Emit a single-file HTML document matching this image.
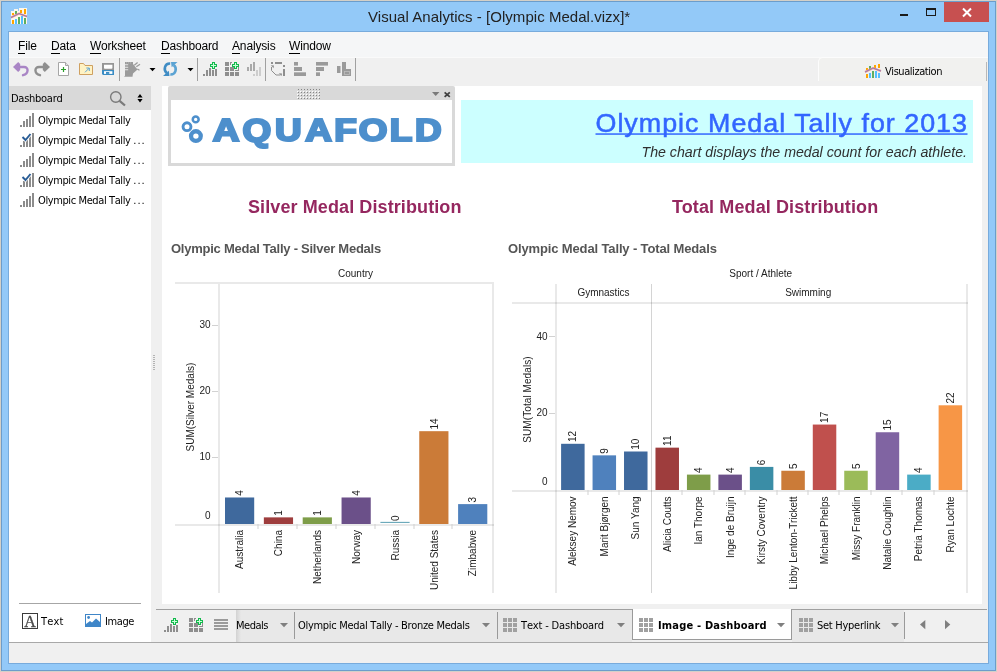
<!DOCTYPE html>
<html lang="en">
<head>
<meta charset="utf-8">
<title>Visual Analytics - [Olympic Medal.vizx]*</title>
<style>
*{box-sizing:border-box;margin:0;padding:0}
html,body{width:997px;height:672px;overflow:hidden}
body{background:#d4d0c8;font-family:"DejaVu Sans Condensed","DejaVu Sans","Liberation Sans",sans-serif;font-size:11px;color:#000;position:relative}
.abs{position:absolute}
.t{position:absolute;white-space:nowrap;line-height:1}
.ui{font-family:"DejaVu Sans Condensed","DejaVu Sans","Liberation Sans",sans-serif;font-size:11px;font-kerning:none;color:#000}
.ar{font-family:"Liberation Sans",sans-serif}
#win{left:1px;top:1px;width:995px;height:670px;background:#93c9f8;border:1px solid #6c9dcb}
#client{left:9px;top:32px;width:979px;height:631px;background:#f0f0f0}
#menubar{left:0;top:0;width:979px;height:25px;background:#f5f6f7}
.menu{font-family:"Liberation Sans",sans-serif;font-size:12px;top:8px;letter-spacing:-0.150px}
.menu u{text-decoration:none;border-bottom:1px solid #000}
#toolbar{left:0;top:25px;width:979px;height:29px;background:#f0f0f0}
.vsep{position:absolute;width:1px;background:#a0a0a0}
#left{left:0;top:54px;width:142px;height:556px;background:#fff}
#lhead{left:0;top:0;width:142px;height:24px;background:#d9d9d9}
#dash{left:153px;top:54px;width:820px;height:518px;background:#fff;overflow:hidden}
#status{left:0;top:610px;width:979px;height:21px;background:#f0f0f0;border-top:1px solid #a3a3a3}
#tabbar{left:147px;top:577px;width:832px;height:33px}
.tab{position:absolute;top:1px;height:29px;background:#e8e8e8}
.tri{position:absolute;width:0;height:0;border-left:4px solid transparent;border-right:4px solid transparent;border-top:4px solid #7a7a7a}
svg{position:absolute;overflow:visible}
svg text{font-family:"Liberation Sans",sans-serif}
</style>
</head>
<body>
<div id="win" class="abs"></div>
<!-- title bar -->
<svg style="left:11px;top:8px" width="16" height="16" viewBox="0 0 16 16">
 <rect x="0" y="3" width="16" height="13" fill="#fbf7ee"/><rect x="3" y="1" width="4" height="3" fill="#fbf7ee"/><rect x="8" y="0" width="8" height="4" fill="#fbf7ee"/>
 <rect x="1" y="5" width="2" height="2" fill="#ffa500"/><rect x="4" y="3" width="2" height="3" fill="#5fae5f"/>
 <rect x="9" y="2" width="2" height="3" fill="#ffa500"/><rect x="13" y="1" width="2" height="5" fill="#ffa500"/>
 <path d="M0 9.5 L8 5.5 L16 8.5" stroke="#eda08c" stroke-width="2" fill="none"/>
 <path d="M0 9.5 L8 5.5 L16 8.5" stroke="#7b68c8" stroke-width="0.8" fill="none"/>
 <rect x="1" y="12" width="2" height="4" fill="#ffa500"/><rect x="4" y="11" width="2" height="5" fill="#55bfff"/>
 <rect x="7" y="9" width="2" height="7" fill="#5fae5f"/><rect x="10" y="8" width="2" height="8" fill="#55bfff"/>
 <rect x="13" y="10" width="2" height="6" fill="#5fae5f"/>
</svg>
<div class="t ar" style="left:368px;top:9px;font-size:15px;color:#222;letter-spacing:0.040px">Visual Analytics - [Olympic Medal.vizx]*</div>
<div class="abs" style="left:900px;top:14px;width:8px;height:2px;background:#1a1a1a"></div>
<div class="abs" style="left:926px;top:8px;width:10px;height:8px;border:1px solid #1a1a1a;border-top-width:2px"></div>
<div class="abs" style="left:944px;top:2px;width:45px;height:20px;background:#c75050"></div>
<svg style="left:962px;top:8px" width="10" height="9" viewBox="0 0 10 9"><path d="M1 0.5 L9 8.5 M9 0.5 L1 8.5" stroke="#fff" stroke-width="2"/></svg>

<div class="abs" style="left:8px;top:31px;width:981px;height:633px;border:1px solid #78abdc"></div>
<div id="client" class="abs"></div>
<div class="abs" style="left:9px;top:32px;width:979px;height:25px;background:#f5f6f7"></div>
<div class="t menu" style="left:18px;top:40px"><u>F</u>ile</div>
<div class="t menu" style="left:51px;top:40px"><u>D</u>ata</div>
<div class="t menu" style="left:90px;top:40px"><u>W</u>orksheet</div>
<div class="t menu" style="left:161px;top:40px"><u>D</u>ashboard</div>
<div class="t menu" style="left:232px;top:40px"><u>A</u>nalysis</div>
<div class="t menu" style="left:289px;top:40px"><u>W</u>indow</div>
<!-- toolbar highlight line -->
<div class="abs" style="left:9px;top:57px;width:974px;height:1px;background:#fafafa"></div>
<!-- toolbar icons -->
<svg style="left:13px;top:62px" width="16" height="14" viewBox="0 0 16 14"><path d="M0 5 L5.200 0 L7.200 2 V8 L5.200 10 Z" fill="#a985c5"/><path d="M5 5 H11 C15.800 5 16 11.500 10 13.200" stroke="#a985c5" stroke-width="2.400" fill="none" stroke-linecap="round"/></svg>
<svg style="left:34px;top:62px" width="16" height="14" viewBox="0 0 16 14"><path d="M16 5 L10.800 0 L8.800 2 V8 L10.800 10 Z" fill="#8f8f8f"/><path d="M11 5 H5 C0.200 5 0 11.500 6 13.200" stroke="#8f8f8f" stroke-width="2.400" fill="none" stroke-linecap="round"/></svg>
<svg style="left:58px;top:62px" width="11" height="14" viewBox="0 0 11 14"><path d="M0.5 0.5 H7.5 L10.5 3.5 V13.5 H0.5 Z" fill="#fff" stroke="#a6a6a6"/><path d="M7.5 0.5 V3.5 H10.5" fill="#e4e4e4" stroke="#a6a6a6"/><path d="M5.5 5 V10 M3 7.5 H8" stroke="#2ca02c" stroke-width="1.2"/></svg>
<svg style="left:79px;top:63px" width="14" height="12" viewBox="0 0 14 12"><path d="M0.5 0.5 H4.5 L6 2.5 H13.5 V11.5 H0.5 Z" fill="#fff3c4" stroke="#cfa060"/><path d="M6 9.300 L10 5.300 M7.300 5 H10.300 V8" stroke="#4a9bd8" stroke-width="0.900" fill="none"/></svg>
<svg style="left:102px;top:63px" width="12" height="12" viewBox="0 0 12 12"><rect x="0" y="0" width="12" height="7" fill="#959595"/><path d="M2 1.700 H10.400 V5 Q10.400 5.800 9.600 5.800 H2.800 Q2 5.800 2 5 Z" fill="#fff"/><path d="M0 7 H12 V12 H1 L0 11 Z" fill="#3a8cc4"/><path d="M2 8.200 H10.400 V10.900 H2 Z" fill="#fff"/><rect x="4" y="9" width="3.300" height="1.900" fill="#3a8cc4"/></svg>
<div class="vsep" style="left:119px;top:58px;height:23px"></div>
<svg style="left:124px;top:62px" width="17" height="15" viewBox="0 0 17 15"><path d="M1 0 H9 V2 L13.500 7.500 L9 11.500 L8.500 14.700 H0 L1 13.800 Z" fill="#9b9b9b"/><path d="M1 2.750 H4.200 M1 5.250 H4.200 M1 7.750 H4.200" stroke="#efefef" stroke-width="0.900"/><path d="M2.500 0.500 V1.300 M4.500 0.500 V1.300 M6.500 0.500 V1.300" stroke="#d0d0d0" stroke-width="0.700"/><path d="M10.300 3.200 L13.600 0.500 M12.300 4.800 L16 2.200 M13.300 7 L15.500 8.200" stroke="#9b9b9b" stroke-width="1.300"/></svg>
<svg style="left:149px;top:68px" width="7" height="4" viewBox="0 0 7 4"><path d="M0.500 0 H6.500 L3.500 3.300 Z" fill="#000"/></svg>
<svg style="left:163px;top:62px" width="15" height="14" viewBox="0 0 15 14"><path d="M7.200 1.500 C1.500 1.200 0.200 8 3.800 11" stroke="#3f8cc4" stroke-width="2.600" fill="none"/><path d="M0 14 H6.500 L5.800 8.800 Z" fill="#3f8cc4"/><path d="M7.300 12.500 C13 12.800 14.300 6 10.700 3" stroke="#5ba3d3" stroke-width="2.600" fill="none"/><path d="M14.500 0 H8 L8.700 5.200 Z" fill="#5ba3d3"/></svg>
<svg style="left:187px;top:68px" width="7" height="4" viewBox="0 0 7 4"><path d="M0.500 0 H6.500 L3.500 3.300 Z" fill="#000"/></svg>
<div class="vsep" style="left:197px;top:58px;height:23px"></div>
<svg style="left:203px;top:62px" width="15" height="14" viewBox="0 0 15 14"><g fill="#8e8e8e"><rect x="0" y="12" width="2" height="2"/><rect x="3" y="8" width="2" height="6"/><rect x="6" y="6" width="2" height="8"/><rect x="9" y="8" width="2" height="6"/><rect x="12" y="7" width="2" height="7"/></g><g shape-rendering="crispEdges"><path d="M9 0 H12 V2 H14 V5 H12 V7 H9 V5 H7 V2 H9 Z" fill="#12b84c"/><path d="M10 1 H11 V3 H13 V4 H11 V6 H10 V4 H8 V3 H10 Z" fill="#c8ffd8"/></g></svg>
<svg style="left:225px;top:62px" width="15" height="14" viewBox="0 0 15 14"><g fill="#8e8e8e"><rect x="0" y="0" width="4" height="4"/><rect x="0" y="5" width="4" height="4"/><rect x="0" y="10" width="4" height="4"/><rect x="5" y="5" width="4" height="4"/><rect x="5" y="10" width="4" height="4"/><rect x="10" y="10" width="4" height="4"/><rect x="5" y="0" width="2" height="1"/><rect x="5" y="0" width="1" height="3"/><rect x="13" y="5" width="1" height="4"/><rect x="10" y="8" width="4" height="1"/></g><g shape-rendering="crispEdges"><path d="M9 0 H12 V2 H14 V5 H12 V7 H9 V5 H7 V2 H9 Z" fill="#12b84c"/><path d="M10 1 H11 V3 H13 V4 H11 V6 H10 V4 H8 V3 H10 Z" fill="#c8ffd8"/></g></svg>
<svg style="left:247px;top:62px" width="15" height="14" viewBox="0 0 15 14"><g fill="#a9a9a9"><rect x="0" y="5" width="2" height="4"/><rect x="3" y="2" width="2" height="7"/><rect x="6" y="0" width="2" height="9"/></g><g fill="#cdcdcd"><rect x="6" y="12" width="2" height="2"/><rect x="9" y="8" width="2" height="6"/><rect x="12" y="5" width="2" height="9"/></g></svg>
<div class="vsep" style="left:265px;top:58px;height:23px"></div>
<svg style="left:270px;top:62px" width="15" height="14" viewBox="0 0 15 14"><g fill="#8e8e8e"><rect x="1" y="0" width="2" height="2"/><rect x="5" y="0" width="7" height="2"/><rect x="13" y="3" width="2" height="2"/><rect x="13" y="7" width="2" height="7"/><path d="M0.800 3.200 L4 3.400 L3.600 6.300 Z"/><path d="M8.800 11.200 L12 11.400 L11.700 14 Z"/></g><path d="M1.500 5 V8.500 L6 13 H10.500" stroke="#8e8e8e" stroke-width="1" fill="none"/></svg>
<svg style="left:294px;top:62px" width="12" height="14" viewBox="0 0 12 14"><g fill="#9a9a9a"><rect x="0" y="0" width="4" height="3.600"/><rect x="0" y="5" width="8" height="4"/><rect x="0" y="10.300" width="12" height="3.700"/></g></svg>
<svg style="left:316px;top:62px" width="12" height="14" viewBox="0 0 12 14"><g fill="#9a9a9a"><rect x="0" y="0" width="12" height="3.600"/><rect x="0" y="5" width="8" height="4"/><rect x="0" y="10.300" width="4" height="3.700"/></g></svg>
<svg style="left:337px;top:62px" width="14" height="14" viewBox="0 0 14 14"><g fill="#9a9a9a"><rect x="0" y="4" width="3.500" height="7"/><rect x="5" y="0" width="4" height="8"/><rect x="5" y="7" width="9" height="7"/></g><rect x="7.500" y="9.500" width="5" height="3" fill="none" stroke="#bdbdbd" stroke-width="0.800"/></svg>
<div class="vsep" style="left:355px;top:58px;height:23px"></div>
<!-- Visualization tab -->
<div class="abs" style="left:818px;top:57px;width:170px;height:24px;background:#f1f1ef;border-left:1px solid #fcfcfc;border-top:1px solid #fcfcfc;border-top-left-radius:5px"></div>
<div class="abs" style="left:986px;top:62px;width:1px;height:19px;background:#b8b8b8"></div>
<svg style="left:865px;top:64px" width="16" height="14" viewBox="0 0 16 14">
 <rect x="1" y="4" width="2" height="2" fill="#ffa500"/><rect x="4" y="2" width="2" height="3" fill="#5fae5f"/><rect x="9" y="1" width="2" height="3" fill="#ffa500"/><rect x="13" y="0" width="2" height="4" fill="#ffa500"/>
 <path d="M0 8 L8 4 L16 7" stroke="#eda08c" stroke-width="2" fill="none"/><path d="M0 8 L8 4 L16 7" stroke="#7b68c8" stroke-width="0.800" fill="none"/>
 <rect x="1" y="10" width="2" height="4" fill="#ffa500"/><rect x="4" y="9" width="2" height="5" fill="#55bfff"/><rect x="7" y="7" width="2" height="7" fill="#5fae5f"/><rect x="10" y="7" width="2" height="7" fill="#55bfff"/><rect x="13" y="9" width="2" height="5" fill="#55bfff"/>
</svg>
<div class="t ui" style="left:885px;top:66px;letter-spacing:-0.441px">Visualization</div>
<!-- left panel -->
<div class="abs" style="left:9px;top:86px;width:142px;height:556px;background:#fff"></div>
<div class="abs" style="left:9px;top:86px;width:142px;height:24px;background:#d9d9d9"></div>
<div class="t ui" style="left:11px;top:93px;letter-spacing:-0.264px">Dashboard</div>
<svg style="left:110px;top:90px" width="17" height="17" viewBox="0 0 17 17"><circle cx="5.800" cy="7" r="5.200" fill="none" stroke="#7a7a7a" stroke-width="1.400"/><path d="M9.600 10.800 L15 15.500" stroke="#7a7a7a" stroke-width="2.200"/></svg>
<svg style="left:136.500px;top:93.700px" width="6" height="9" viewBox="0 0 6 9"><path d="M0.400 3.500 L3 0 L5.600 3.500 Z M0.400 5 L3 8.500 L5.600 5 Z" fill="#000"/></svg>
<svg style="left:20px;top:113px" width="14" height="14" viewBox="0 0 14 14"><g fill="#8c8c8c"><rect x="0" y="12" width="2" height="2"/><rect x="3" y="8" width="2" height="6"/><rect x="6" y="6" width="2" height="8"/><rect x="9" y="3" width="2" height="11"/><rect x="12" y="0" width="2" height="14"/></g></svg>
<div class="t ui" style="left:38px;top:115px;letter-spacing:-0.394px">Olympic Medal Tally</div>
<svg style="left:20px;top:133px" width="14" height="14" viewBox="0 0 14 14"><g fill="#8c8c8c"><rect x="0" y="12" width="2" height="2"/><rect x="3" y="8" width="2" height="6"/><rect x="6" y="6" width="2" height="8"/><rect x="9" y="3" width="2" height="11"/><rect x="12" y="0" width="2" height="14"/></g><path d="M2 3.500 L5.500 7 L11 0.500" stroke="#fff" stroke-width="3.400" fill="none"/><path d="M2.500 4 L5.500 7 L10.500 1" stroke="#2a5d96" stroke-width="1.900" fill="none"/></svg>
<div class="t ui" style="left:38px;top:135px;letter-spacing:-0.394px">Olympic Medal Tally <span style="letter-spacing:1px">...</span></div>
<svg style="left:20px;top:153px" width="14" height="14" viewBox="0 0 14 14"><g fill="#8c8c8c"><rect x="0" y="12" width="2" height="2"/><rect x="3" y="8" width="2" height="6"/><rect x="6" y="6" width="2" height="8"/><rect x="9" y="3" width="2" height="11"/><rect x="12" y="0" width="2" height="14"/></g></svg>
<div class="t ui" style="left:38px;top:155px;letter-spacing:-0.394px">Olympic Medal Tally <span style="letter-spacing:1px">...</span></div>
<svg style="left:20px;top:173px" width="14" height="14" viewBox="0 0 14 14"><g fill="#8c8c8c"><rect x="0" y="12" width="2" height="2"/><rect x="3" y="8" width="2" height="6"/><rect x="6" y="6" width="2" height="8"/><rect x="9" y="3" width="2" height="11"/><rect x="12" y="0" width="2" height="14"/></g><path d="M2 3.500 L5.500 7 L11 0.500" stroke="#fff" stroke-width="3.400" fill="none"/><path d="M2.500 4 L5.500 7 L10.500 1" stroke="#2a5d96" stroke-width="1.900" fill="none"/></svg>
<div class="t ui" style="left:38px;top:175px;letter-spacing:-0.394px">Olympic Medal Tally <span style="letter-spacing:1px">...</span></div>
<svg style="left:20px;top:193px" width="14" height="14" viewBox="0 0 14 14"><g fill="#8c8c8c"><rect x="0" y="12" width="2" height="2"/><rect x="3" y="8" width="2" height="6"/><rect x="6" y="6" width="2" height="8"/><rect x="9" y="3" width="2" height="11"/><rect x="12" y="0" width="2" height="14"/></g></svg>
<div class="t ui" style="left:38px;top:195px;letter-spacing:-0.394px">Olympic Medal Tally <span style="letter-spacing:1px">...</span></div>
<div class="abs" style="left:19px;top:603px;width:122px;height:1px;background:#a6a6a6"></div>
<svg style="left:22px;top:613px" width="16" height="16" viewBox="0 0 16 16"><rect x="0.500" y="0.500" width="15" height="15" fill="#fff" stroke="#3a3a3a"/><text x="8" y="13.500" text-anchor="middle" style="font-family:'Liberation Serif',serif;font-size:16px" fill="#4a4a4a" stroke="#4a4a4a" stroke-width="0.350">A</text></svg>
<div class="t ui" style="left:41px;top:616px;letter-spacing:0.155px">Text</div>
<svg style="left:85px;top:614px" width="16" height="13" viewBox="0 0 16 13"><rect x="0" y="0" width="16" height="13" fill="#3f86c8"/><rect x="1" y="1" width="14" height="11" fill="#fff"/><circle cx="3.600" cy="3.500" r="1.400" fill="#3f86c8"/><path d="M1 10 L5 7 L7 8.500 L11 4.500 L15 8 V12 H1 Z" fill="#3f86c8"/></svg>
<div class="t ui" style="left:105px;top:616px;letter-spacing:-0.4px">Image</div>
<!-- dashboard -->
<div class="abs" style="left:162px;top:86px;width:820px;height:518px;background:#fff"></div>
<div class="abs" style="left:168px;top:86px;width:287px;height:80px;background:#d9d9d9;border-radius:2px 2px 0 0"></div>
<div class="abs" style="left:171px;top:100px;width:281px;height:63px;background:#fff"></div>
<svg style="left:0;top:0" width="400" height="110" viewBox="0 0 400 110" shape-rendering="crispEdges"><rect x="298" y="89" width="1" height="1" fill="#858585"/><rect x="298" y="92" width="1" height="1" fill="#858585"/><rect x="297" y="91" width="1" height="1" fill="#fff"/><rect x="298" y="95" width="1" height="1" fill="#858585"/><rect x="297" y="94" width="1" height="1" fill="#fff"/><rect x="298" y="98" width="1" height="1" fill="#858585"/><rect x="297" y="97" width="1" height="1" fill="#fff"/><rect x="301" y="89" width="1" height="1" fill="#858585"/><rect x="301" y="92" width="1" height="1" fill="#858585"/><rect x="300" y="91" width="1" height="1" fill="#fff"/><rect x="301" y="95" width="1" height="1" fill="#858585"/><rect x="300" y="94" width="1" height="1" fill="#fff"/><rect x="301" y="98" width="1" height="1" fill="#858585"/><rect x="300" y="97" width="1" height="1" fill="#fff"/><rect x="304" y="89" width="1" height="1" fill="#858585"/><rect x="304" y="92" width="1" height="1" fill="#858585"/><rect x="303" y="91" width="1" height="1" fill="#fff"/><rect x="304" y="95" width="1" height="1" fill="#858585"/><rect x="303" y="94" width="1" height="1" fill="#fff"/><rect x="304" y="98" width="1" height="1" fill="#858585"/><rect x="303" y="97" width="1" height="1" fill="#fff"/><rect x="307" y="89" width="1" height="1" fill="#858585"/><rect x="307" y="92" width="1" height="1" fill="#858585"/><rect x="306" y="91" width="1" height="1" fill="#fff"/><rect x="307" y="95" width="1" height="1" fill="#858585"/><rect x="306" y="94" width="1" height="1" fill="#fff"/><rect x="307" y="98" width="1" height="1" fill="#858585"/><rect x="306" y="97" width="1" height="1" fill="#fff"/><rect x="310" y="89" width="1" height="1" fill="#858585"/><rect x="310" y="92" width="1" height="1" fill="#858585"/><rect x="309" y="91" width="1" height="1" fill="#fff"/><rect x="310" y="95" width="1" height="1" fill="#858585"/><rect x="309" y="94" width="1" height="1" fill="#fff"/><rect x="310" y="98" width="1" height="1" fill="#858585"/><rect x="309" y="97" width="1" height="1" fill="#fff"/><rect x="313" y="89" width="1" height="1" fill="#858585"/><rect x="313" y="92" width="1" height="1" fill="#858585"/><rect x="312" y="91" width="1" height="1" fill="#fff"/><rect x="313" y="95" width="1" height="1" fill="#858585"/><rect x="312" y="94" width="1" height="1" fill="#fff"/><rect x="313" y="98" width="1" height="1" fill="#858585"/><rect x="312" y="97" width="1" height="1" fill="#fff"/><rect x="316" y="89" width="1" height="1" fill="#858585"/><rect x="316" y="92" width="1" height="1" fill="#858585"/><rect x="315" y="91" width="1" height="1" fill="#fff"/><rect x="316" y="95" width="1" height="1" fill="#858585"/><rect x="315" y="94" width="1" height="1" fill="#fff"/><rect x="316" y="98" width="1" height="1" fill="#858585"/><rect x="315" y="97" width="1" height="1" fill="#fff"/><rect x="319" y="89" width="1" height="1" fill="#858585"/><rect x="319" y="92" width="1" height="1" fill="#858585"/><rect x="318" y="91" width="1" height="1" fill="#fff"/><rect x="319" y="95" width="1" height="1" fill="#858585"/><rect x="318" y="94" width="1" height="1" fill="#fff"/><rect x="319" y="98" width="1" height="1" fill="#858585"/><rect x="318" y="97" width="1" height="1" fill="#fff"/></svg>
<svg style="left:0;top:0" width="200" height="400" viewBox="0 0 200 400" shape-rendering="crispEdges"><rect x="153" y="355" width="2" height="1" fill="#b4b4b4"/><rect x="153" y="357" width="2" height="1" fill="#b4b4b4"/><rect x="153" y="359" width="2" height="1" fill="#b4b4b4"/><rect x="153" y="361" width="2" height="1" fill="#b4b4b4"/><rect x="153" y="363" width="2" height="1" fill="#b4b4b4"/><rect x="153" y="365" width="2" height="1" fill="#b4b4b4"/><rect x="153" y="367" width="2" height="1" fill="#b4b4b4"/><rect x="153" y="369" width="2" height="1" fill="#b4b4b4"/></svg>
<svg style="left:432px;top:92px" width="8" height="4" viewBox="0 0 8 4"><path d="M0 0 H7.400 L3.700 4 Z" fill="#7a7a7a"/></svg>
<svg style="left:444px;top:91px" width="7" height="7" viewBox="0 0 7 7"><path d="M0.600 1.300 L5.800 5.900 M5.800 1.300 L0.600 5.900" stroke="#404040" stroke-width="1.800"/></svg>
<svg style="left:0;top:0" width="997" height="200" viewBox="0 0 997 200"><g fill="none" stroke="#4d8fcc"><circle cx="195.700" cy="119.400" r="2.950" stroke-width="2.500"/><circle cx="187" cy="126.700" r="3.950" stroke-width="2.900"/><circle cx="195.900" cy="136.100" r="4.850" stroke-width="4.300"/></g><text transform="scale(1.19,1)" x="178.88 203.79 231.12 256.49 280.88 301.4 327.53 348.8" y="140.600" style="font-family:'Liberation Sans',sans-serif;font-weight:bold;font-size:31px" fill="#4d8fcc" stroke="#4d8fcc" stroke-width="2.200">AQUAFOLD</text></svg>
<div class="abs" style="left:461px;top:100px;width:512px;height:63px;background:#ccffff"></div>
<svg style="left:0;top:0" width="997" height="200" viewBox="0 0 997 200"><text transform="scale(1.07,1)" x="556.54" y="131.800" textLength="347.20" lengthAdjust="spacing" style="font-family:'Liberation Sans',sans-serif;font-size:25.100px" fill="#3366ff" stroke="#3366ff" stroke-width="0.500">Olympic Medal Tally for 2013</text><rect x="595.500" y="133.300" width="372" height="1.500" fill="#3366ff"/><text x="967" y="156.800" text-anchor="end" textLength="325.500" lengthAdjust="spacing" style="font-family:'Liberation Sans',sans-serif;font-style:italic;font-size:14.200px" fill="#303030">The chart displays the medal count for each athlete.</text></svg>
<div class="t ar" style="left:248px;top:198px;font-size:18px;font-weight:bold;color:#95275f;letter-spacing:0.100px">Silver Medal Distribution</div>
<div class="t ar" style="left:672px;top:198px;font-size:18px;font-weight:bold;color:#95275f;letter-spacing:0.110px">Total Medal Distribution</div>
<div class="t ar" style="left:171px;top:242px;font-size:13px;font-weight:bold;color:#555;letter-spacing:-0.250px">Olympic Medal Tally - Silver Medals</div>
<div class="t ar" style="left:508px;top:242px;font-size:13px;font-weight:bold;color:#555;letter-spacing:-0.135px">Olympic Medal Tally - Total Medals</div>
<svg style="left:0;top:0" width="997" height="672" viewBox="0 0 997 672" font-size="10" fill="#222">
<text x="355.5" y="276.7" text-anchor="middle">Country</text>
<rect x="175" y="282" width="319" height="2" fill="rgba(0,0,0,0.085)"/>
<rect x="218" y="284" width="2" height="309" fill="rgba(0,0,0,0.085)"/>
<rect x="492" y="284" width="2" height="309" fill="rgba(0,0,0,0.085)"/>
<rect x="175" y="524" width="319" height="2" fill="rgba(0,0,0,0.085)"/>
<rect x="212" y="325" width="6" height="1" fill="#d2d2d2"/>
<text x="210.5" y="328" text-anchor="end">30</text>
<rect x="212" y="391" width="6" height="1" fill="#d2d2d2"/>
<text x="210.5" y="394" text-anchor="end">20</text>
<rect x="212" y="457" width="6" height="1" fill="#d2d2d2"/>
<text x="210.5" y="460" text-anchor="end">10</text>
<text x="210.5" y="519" text-anchor="end">0</text>
<text x="193.7" y="407" text-anchor="middle" transform="rotate(-90 193.7 407)">SUM(Silver Medals)</text>
<rect x="225.00" y="497.48" width="29.2" height="26.52" fill="#3f699d"/>
<text x="243.2" y="495.8" text-anchor="start" transform="rotate(-90 243.2 495.8)">4</text>
<text x="243.2" y="530" text-anchor="end" transform="rotate(-90 243.2 530)">Australia</text>
<rect x="263.85" y="517.37" width="29.2" height="6.63" fill="#9e3d3d"/>
<text x="282.1" y="515.7" text-anchor="start" transform="rotate(-90 282.1 515.7)">1</text>
<text x="282.1" y="530" text-anchor="end" transform="rotate(-90 282.1 530)">China</text>
<rect x="257.5" y="524" width="1" height="5" fill="#d2d2d2"/>
<rect x="302.70" y="517.37" width="29.2" height="6.63" fill="#7e9d49"/>
<text x="320.9" y="515.7" text-anchor="start" transform="rotate(-90 320.9 515.7)">1</text>
<text x="320.9" y="530" text-anchor="end" transform="rotate(-90 320.9 530)">Netherlands</text>
<rect x="296.5" y="524" width="1" height="5" fill="#d2d2d2"/>
<rect x="341.55" y="497.48" width="29.2" height="26.52" fill="#6b5089"/>
<text x="359.8" y="495.8" text-anchor="start" transform="rotate(-90 359.8 495.8)">4</text>
<text x="359.8" y="530" text-anchor="end" transform="rotate(-90 359.8 530)">Norway</text>
<rect x="335.5" y="524" width="1" height="5" fill="#d2d2d2"/>
<rect x="380.40" y="521.90" width="29.2" height="0.80" fill="#2f879f"/>
<text x="398.6" y="521" text-anchor="start" transform="rotate(-90 398.6 521)">0</text>
<text x="398.6" y="530" text-anchor="end" transform="rotate(-90 398.6 530)">Russia</text>
<rect x="374.5" y="524" width="1" height="5" fill="#d2d2d2"/>
<rect x="419.25" y="431.18" width="29.2" height="92.82" fill="#cb7b38"/>
<text x="437.5" y="429.5" text-anchor="start" transform="rotate(-90 437.5 429.5)">14</text>
<text x="437.5" y="530" text-anchor="end" transform="rotate(-90 437.5 530)">United States</text>
<rect x="413.5" y="524" width="1" height="5" fill="#d2d2d2"/>
<rect x="458.10" y="504.11" width="29.2" height="19.89" fill="#4f81bd"/>
<text x="476.3" y="502.4" text-anchor="start" transform="rotate(-90 476.3 502.4)">3</text>
<text x="476.3" y="530" text-anchor="end" transform="rotate(-90 476.3 530)">Zimbabwe</text>
<rect x="451.5" y="524" width="1" height="5" fill="#d2d2d2"/>
<text x="760.7" y="277" text-anchor="middle">Sport / Athlete</text>
<text x="603.5" y="296" text-anchor="middle">Gymnastics</text>
<text x="808.2" y="296" text-anchor="middle">Swimming</text>
<rect x="555" y="284" width="2" height="309" fill="rgba(0,0,0,0.085)"/>
<rect x="651" y="284" width="1" height="309" fill="#d4d4d4"/>
<rect x="966" y="284" width="2" height="309" fill="rgba(0,0,0,0.085)"/>
<rect x="512" y="302" width="456" height="2" fill="rgba(0,0,0,0.085)"/>
<rect x="512" y="490" width="456" height="2" fill="rgba(0,0,0,0.085)"/>
<rect x="549" y="336" width="6" height="1" fill="#d2d2d2"/>
<text x="547.5" y="339.9" text-anchor="end">40</text>
<rect x="549" y="413" width="6" height="1" fill="#d2d2d2"/>
<text x="547.5" y="415.9" text-anchor="end">20</text>
<text x="547.5" y="485" text-anchor="end">0</text>
<text x="531.3" y="399.5" text-anchor="middle" transform="rotate(-90 531.3 399.5)" letter-spacing="0.080">SUM(Total Medals)</text>
<rect x="561.10" y="443.80" width="23.5" height="46.20" fill="#3f699d"/>
<text x="576.5" y="442.1" text-anchor="start" transform="rotate(-90 576.5 442.1)">12</text>
<text x="576.5" y="496.4" text-anchor="end" transform="rotate(-90 576.5 496.4)">Aleksey Nemov</text>
<rect x="592.56" y="455.35" width="23.5" height="34.65" fill="#4f81bd"/>
<text x="607.9" y="453.7" text-anchor="start" transform="rotate(-90 607.9 453.7)">9</text>
<text x="607.9" y="496.4" text-anchor="end" transform="rotate(-90 607.9 496.4)">Marit Bjørgen</text>
<rect x="587.5" y="490" width="1" height="5" fill="#d2d2d2"/>
<rect x="624.02" y="451.50" width="23.5" height="38.50" fill="#3f699d"/>
<text x="639.4" y="449.8" text-anchor="start" transform="rotate(-90 639.4 449.8)">10</text>
<text x="639.4" y="496.4" text-anchor="end" transform="rotate(-90 639.4 496.4)">Sun Yang</text>
<rect x="618.5" y="490" width="1" height="5" fill="#d2d2d2"/>
<rect x="655.48" y="447.65" width="23.5" height="42.35" fill="#9e3d3d"/>
<text x="670.8" y="445.9" text-anchor="start" transform="rotate(-90 670.8 445.9)">11</text>
<text x="670.8" y="496.4" text-anchor="end" transform="rotate(-90 670.8 496.4)">Alicia Coutts</text>
<rect x="686.94" y="474.60" width="23.5" height="15.40" fill="#7e9d49"/>
<text x="702.3" y="472.9" text-anchor="start" transform="rotate(-90 702.3 472.9)">4</text>
<text x="702.3" y="496.4" text-anchor="end" transform="rotate(-90 702.3 496.4)">Ian Thorpe</text>
<rect x="681.5" y="490" width="1" height="5" fill="#d2d2d2"/>
<rect x="718.40" y="474.60" width="23.5" height="15.40" fill="#6b5089"/>
<text x="733.8" y="472.9" text-anchor="start" transform="rotate(-90 733.8 472.9)">4</text>
<text x="733.8" y="496.4" text-anchor="end" transform="rotate(-90 733.8 496.4)">Inge de Bruijn</text>
<rect x="713.5" y="490" width="1" height="5" fill="#d2d2d2"/>
<rect x="749.86" y="466.90" width="23.5" height="23.10" fill="#3a8da6"/>
<text x="765.2" y="465.2" text-anchor="start" transform="rotate(-90 765.2 465.2)">6</text>
<text x="765.2" y="496.4" text-anchor="end" transform="rotate(-90 765.2 496.4)">Kirsty Coventry</text>
<rect x="744.5" y="490" width="1" height="5" fill="#d2d2d2"/>
<rect x="781.32" y="470.75" width="23.5" height="19.25" fill="#cb7b38"/>
<text x="796.7" y="469.1" text-anchor="start" transform="rotate(-90 796.7 469.1)">5</text>
<text x="796.7" y="496.4" text-anchor="end" transform="rotate(-90 796.7 496.4)">Libby Lenton-Trickett</text>
<rect x="776.5" y="490" width="1" height="5" fill="#d2d2d2"/>
<rect x="812.78" y="424.55" width="23.5" height="65.45" fill="#c0504d"/>
<text x="828.1" y="422.9" text-anchor="start" transform="rotate(-90 828.1 422.9)">17</text>
<text x="828.1" y="496.4" text-anchor="end" transform="rotate(-90 828.1 496.4)">Michael Phelps</text>
<rect x="807.5" y="490" width="1" height="5" fill="#d2d2d2"/>
<rect x="844.24" y="470.75" width="23.5" height="19.25" fill="#9bbb59"/>
<text x="859.6" y="469.1" text-anchor="start" transform="rotate(-90 859.6 469.1)">5</text>
<text x="859.6" y="496.4" text-anchor="end" transform="rotate(-90 859.6 496.4)">Missy Franklin</text>
<rect x="838.5" y="490" width="1" height="5" fill="#d2d2d2"/>
<rect x="875.70" y="432.25" width="23.5" height="57.75" fill="#8064a2"/>
<text x="891.1" y="430.6" text-anchor="start" transform="rotate(-90 891.1 430.6)">15</text>
<text x="891.1" y="496.4" text-anchor="end" transform="rotate(-90 891.1 496.4)">Natalie Coughlin</text>
<rect x="870.5" y="490" width="1" height="5" fill="#d2d2d2"/>
<rect x="907.16" y="474.60" width="23.5" height="15.40" fill="#4bacc6"/>
<text x="922.5" y="472.9" text-anchor="start" transform="rotate(-90 922.5 472.9)">4</text>
<text x="922.5" y="496.4" text-anchor="end" transform="rotate(-90 922.5 496.4)">Petria Thomas</text>
<rect x="901.5" y="490" width="1" height="5" fill="#d2d2d2"/>
<rect x="938.62" y="405.30" width="23.5" height="84.70" fill="#f79646"/>
<text x="954.0" y="403.6" text-anchor="start" transform="rotate(-90 954.0 403.6)">22</text>
<text x="954.0" y="496.4" text-anchor="end" transform="rotate(-90 954.0 496.4)">Ryan Lochte</text>
<rect x="933.5" y="490" width="1" height="5" fill="#d2d2d2"/>
</svg>
<!-- bottom tab bar -->
<div class="abs" style="left:236px;top:610px;width:668px;height:32px;background:#e8e8e8"></div>
<div class="abs" style="left:236px;top:610px;width:5px;height:32px;background:linear-gradient(to right,#d2d2d2,#e8e8e8)"></div>
<div class="abs" style="left:156px;top:609px;width:831px;height:1px;background:#a0a0a0"></div>
<svg style="left:164px;top:618px" width="15" height="14" viewBox="0 0 15 14"><g fill="#8e8e8e"><rect x="0" y="12" width="2" height="2"/><rect x="3" y="8" width="2" height="6"/><rect x="6" y="6" width="2" height="8"/><rect x="9" y="8" width="2" height="6"/><rect x="12" y="7" width="2" height="7"/></g><g shape-rendering="crispEdges"><path d="M9 0 H12 V2 H14 V5 H12 V7 H9 V5 H7 V2 H9 Z" fill="#12b84c"/><path d="M10 1 H11 V3 H13 V4 H11 V6 H10 V4 H8 V3 H10 Z" fill="#c8ffd8"/></g></svg>
<svg style="left:189px;top:618px" width="15" height="14" viewBox="0 0 15 14"><g fill="#8e8e8e"><rect x="0" y="0" width="4" height="4"/><rect x="0" y="5" width="4" height="4"/><rect x="0" y="10" width="4" height="4"/><rect x="5" y="5" width="4" height="4"/><rect x="5" y="10" width="4" height="4"/><rect x="10" y="10" width="4" height="4"/><rect x="5" y="0" width="2" height="1"/><rect x="5" y="0" width="1" height="3"/><rect x="13" y="5" width="1" height="4"/><rect x="10" y="8" width="4" height="1"/></g><g shape-rendering="crispEdges"><path d="M9 0 H12 V2 H14 V5 H12 V7 H9 V5 H7 V2 H9 Z" fill="#12b84c"/><path d="M10 1 H11 V3 H13 V4 H11 V6 H10 V4 H8 V3 H10 Z" fill="#c8ffd8"/></g></svg>
<svg style="left:214px;top:619px" width="14" height="12" viewBox="0 0 14 12"><g fill="#9a9a9a"><rect x="0" y="0" width="14" height="2"/><rect x="0" y="3" width="14" height="2"/><rect x="0" y="6" width="14" height="2"/><rect x="0" y="9" width="14" height="2"/></g></svg>
<div class="t ui" style="left:236px;top:620px;letter-spacing:-0.482px">Medals</div>
<svg style="left:280px;top:623px" width="8" height="4" viewBox="0 0 8 4"><path d="M0 0 H8 L4 4.300 Z" fill="#7f7f7f"/></svg>
<div class="abs" style="left:294px;top:612px;width:1px;height:27px;background:#9a9a9a"></div>
<div class="t ui" style="left:298px;top:620px;letter-spacing:-0.31px">Olympic Medal Tally - Bronze Medals</div>
<svg style="left:482px;top:623px" width="8" height="4" viewBox="0 0 8 4"><path d="M0 0 H8 L4 4.300 Z" fill="#7f7f7f"/></svg>
<div class="abs" style="left:497px;top:612px;width:1px;height:27px;background:#9a9a9a"></div>
<svg style="left:503px;top:618px" width="14" height="14" viewBox="0 0 14 14"><g fill="#a0a0a0"><rect x="0" y="0" width="4" height="4"/><rect x="5" y="0" width="4" height="4"/><rect x="10" y="0" width="4" height="4"/><rect x="0" y="5" width="4" height="4"/><rect x="5" y="5" width="4" height="4"/><rect x="10" y="5" width="4" height="4"/><rect x="0" y="10" width="4" height="4"/><rect x="5" y="10" width="4" height="4"/><rect x="10" y="10" width="4" height="4"/></g></svg>
<div class="t ui" style="left:521px;top:620px;letter-spacing:-0.162px">Text - Dashboard</div>
<svg style="left:617px;top:623px" width="8" height="4" viewBox="0 0 8 4"><path d="M0 0 H8 L4 4.300 Z" fill="#7f7f7f"/></svg>
<div class="abs" style="left:632px;top:609px;width:160px;height:31px;background:#fff;border:1px solid #9a9a9a;border-top:none"></div>
<div class="abs" style="left:632px;top:640px;width:160px;height:2px;background:#f0f0f0"></div>
<svg style="left:639px;top:618px" width="14" height="14" viewBox="0 0 14 14"><g fill="#a0a0a0"><rect x="0" y="0" width="4" height="4"/><rect x="5" y="0" width="4" height="4"/><rect x="10" y="0" width="4" height="4"/><rect x="0" y="5" width="4" height="4"/><rect x="5" y="5" width="4" height="4"/><rect x="10" y="5" width="4" height="4"/><rect x="0" y="10" width="4" height="4"/><rect x="5" y="10" width="4" height="4"/><rect x="10" y="10" width="4" height="4"/></g></svg>
<div class="t ui" style="left:658px;top:620px;font-weight:bold;letter-spacing:0.180px">Image - Dashboard</div>
<svg style="left:777px;top:623px" width="8" height="4" viewBox="0 0 8 4"><path d="M0 0 H8 L4 4.300 Z" fill="#7f7f7f"/></svg>
<svg style="left:799px;top:618px" width="14" height="14" viewBox="0 0 14 14"><g fill="#a0a0a0"><rect x="0" y="0" width="4" height="4"/><rect x="5" y="0" width="4" height="4"/><rect x="10" y="0" width="4" height="4"/><rect x="0" y="5" width="4" height="4"/><rect x="5" y="5" width="4" height="4"/><rect x="10" y="5" width="4" height="4"/><rect x="0" y="10" width="4" height="4"/><rect x="5" y="10" width="4" height="4"/><rect x="10" y="10" width="4" height="4"/></g></svg>
<div class="t ui" style="left:817px;top:620px;letter-spacing:-0.265px">Set Hyperlink</div>
<svg style="left:891px;top:623px" width="8" height="4" viewBox="0 0 8 4"><path d="M0 0 H8 L4 4.300 Z" fill="#7f7f7f"/></svg>
<div class="abs" style="left:904px;top:612px;width:1px;height:27px;background:#9a9a9a"></div>
<svg style="left:920px;top:620px" width="6" height="10" viewBox="0 0 6 10"><path d="M5.300 0 V9.200 L0 4.600 Z" fill="#7f7f7f"/></svg>
<svg style="left:945px;top:620px" width="6" height="10" viewBox="0 0 6 10"><path d="M0 0 V9.200 L5.300 4.600 Z" fill="#7f7f7f"/></svg>
<div class="abs" style="left:9px;top:642px;width:979px;height:1px;background:#a8a8a8"></div>
</body>
</html>
